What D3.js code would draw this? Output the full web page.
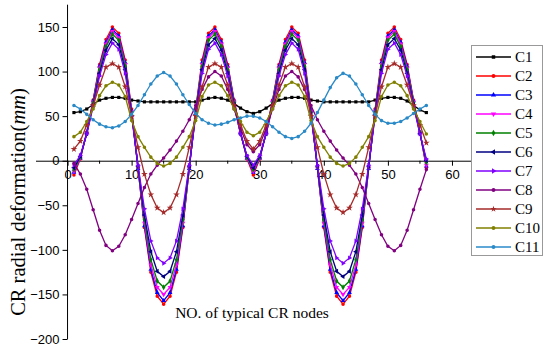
<!DOCTYPE html>
<html>
<head>
<meta charset="utf-8">
<script src="https://cdn.jsdelivr.net/npm/d3@7"></script>
<style>
  body { margin: 0; background: #fff; }
  svg { display: block; }
</style>
</head>
<body>
<div id="chart"></div>
<script>
// node numbers 1..56
const nodes = d3.range(1, 57);

const seriesNames = ["C1", "C2", "C3", "C4", "C5", "C6", "C7", "C8", "C9", "C10", "C11"];

const c1 = [54,55,58,63,68,70,71,71,70,68,67,66,66,66,66,66,66,66,66,66,68,70,71,70,68,64,59,55,53,
            55,59,64,68,70,71,71,70,68,67,66,66,66,66,66,66,66,66,68,70,71,71,70,67,62,57,54];
const c2 = [-16,2,32,68,108,136,150,143,113,58,-8,-75,-125,-152,-161,-152,-125,-75,-8,58,113,143,150,136,108,68,32,2,-16,
            2,32,68,108,136,150,143,113,58,-8,-75,-125,-152,-161,-152,-125,-75,-8,58,113,143,150,136,108,68,32,-8];
const c3 = [-13,3,32,67,106,133,147,140,110,56,-9,-73,-122,-148,-157,-148,-122,-73,-9,56,110,140,147,133,106,67,32,3,-13,
            3,32,67,106,133,147,140,110,56,-9,-73,-122,-148,-157,-148,-122,-73,-9,56,110,140,147,133,106,67,32,-6];
const c4 = [-12,3,31,66,104,131,145,138,108,55,-8,-70,-117,-142,-150,-142,-117,-70,-8,55,108,138,145,131,104,66,31,3,-12,
            3,31,66,104,131,145,138,108,55,-8,-70,-117,-142,-150,-142,-117,-70,-8,55,108,138,145,131,104,66,31,-5];
const c5 = [-10,4,31,65,102,128,142,135,106,54,-7,-66,-111,-135,-142,-135,-111,-66,-7,54,106,135,142,128,102,65,31,4,-10,
            4,31,65,102,128,142,135,106,54,-7,-66,-111,-135,-142,-135,-111,-66,-7,54,106,135,142,128,102,65,31,-2];
const c6 = [-8,5,30,63,98,124,137,130,102,52,-6,-61,-102,-124,-130,-124,-102,-61,-6,52,102,130,137,124,98,63,30,5,-8,
            5,30,63,98,124,137,130,102,52,-6,-61,-102,-124,-130,-124,-102,-61,-6,52,102,130,137,124,98,63,30,0];
const c7 = [-5,6,30,61,95,119,132,125,98,50,-5,-54,-90,-109,-115,-109,-90,-54,-5,50,98,125,132,119,95,61,30,6,-5,
            6,30,61,95,119,132,125,98,50,-5,-54,-90,-109,-115,-109,-90,-54,-5,50,98,125,132,119,95,61,30,2];
const c8 = [-3,-15,-32,-55,-78,-95,-101,-96,-83,-66,-48,-30,-15,-5,3,12,22,33,46,62,80,94,100,95,80,58,36,18,10,
            18,36,58,80,95,100,94,80,62,46,33,22,12,3,-5,-15,-30,-48,-66,-83,-96,-101,-95,-78,-55,-32,-10];
const c9 = [13,22,40,62,85,105,109,105,83,50,15,-15,-38,-53,-58,-53,-38,-15,15,50,83,105,109,105,85,62,40,22,13,
            22,40,62,85,105,109,105,83,50,15,-15,-38,-53,-58,-53,-38,-15,15,50,83,105,109,105,85,62,40,20];
const c10 = [27,32,44,58,73,84,88,85,72,45,27,15,4,-3,-6,-3,4,15,27,45,72,85,88,84,73,58,44,32,28,
             32,44,58,73,84,88,85,72,45,27,15,4,-3,-6,-3,4,15,27,45,72,85,88,84,73,58,44,30];
const c11 = [62,58,52,46,41,38,37,39,44,52,62,74,86,95,99,95,86,74,63,53,46,42,40,41,43,46,48,50,50,
             48,44,38,32,27,25,27,33,42,54,68,82,93,98,95,86,74,62,52,45,42,42,44,48,53,58,62];

const seriesValues = [c1, c2, c3, c4, c5, c6, c7, c8, c9, c10, c11];

const colors = ["#000000", "#ff0000", "#0000ff", "#ff00ff", "#008000", "#000080",
                "#8000ff", "#800080", "#a52a2a", "#808000", "#2a8ac8"];
const shapes = [d3.symbolSquare, d3.symbolCircle, d3.symbolTriangle, d3.symbolTriangle, d3.symbolDiamond,
                d3.symbolTriangle, d3.symbolTriangle, d3.symbolCircle, d3.symbolStar, d3.symbolCircle, d3.symbolCircle];
const rotations = [0, 0, 0, 180, 0, -90, 90, 0, 0, 0, 0];

const xTicks = [0, 10, 20, 30, 40, 50, 60];
const xMinorTicks = [5, 15, 25, 35, 45, 55];
const yTicks = [-200, -150, -100, -50, 0, 50, 100, 150];

const width = 550, height = 351;

const svg = d3.select("#chart")
    .append("svg")
    .attr("width", width)
    .attr("height", height);

const x = d3.scaleLinear().domain([-5, 63]).range([35.5, 471.2]);
const y = d3.scaleLinear().domain([-200, 175]).range([339, 4.7]);

// Y axis (crosses at x = 0)
const yAxis = svg.append("g")
    .attr("transform", `translate(${x(0)},0)`)
    .call(d3.axisLeft(y).tickValues(yTicks).tickSize(5).tickPadding(3)
        .tickFormat(d => d < 0 ? "\u2212" + Math.abs(d) : d));
yAxis.select(".domain").attr("d", `M0,${y(-200)}V${y(175)}`);
yAxis.selectAll("text")
    .style("font-family", "'Liberation Sans', Arial, sans-serif")
    .style("font-size", "13px");

// X axis (crosses at y = 0)
const xAxis = svg.append("g")
    .attr("transform", `translate(0,${y(0)})`)
    .call(d3.axisBottom(x).tickValues(xTicks).tickSize(5).tickPadding(4).tickSizeOuter(0));
xAxis.selectAll("text")
    .style("font-family", "'Liberation Sans', Arial, sans-serif")
    .style("font-size", "13px");
xAxis.selectAll(".minor")
    .data(xMinorTicks)
    .enter()
    .append("line")
    .attr("class", "minor")
    .attr("x1", d => x(d))
    .attr("x2", d => x(d))
    .attr("y1", 0)
    .attr("y2", 3)
    .attr("stroke", "#000");

// Lines
const line = d3.line()
    .x((d, i) => x(nodes[i]))
    .y(d => y(d));

seriesValues.forEach((vals, s) => {
    svg.append("path")
        .datum(vals)
        .attr("fill", "none")
        .attr("stroke", colors[s])
        .attr("stroke-width", 1.3)
        .attr("d", line);

    const sym = d3.symbol().type(shapes[s]).size(shapes[s] === d3.symbolStar ? 14 : 10);
    svg.append("g")
        .selectAll("path")
        .data(vals)
        .enter()
        .append("path")
        .attr("d", sym)
        .attr("transform", (d, i) => `translate(${x(nodes[i])},${y(d)}) rotate(${rotations[s]})`)
        .attr("fill", colors[s]);
});

// Axis titles
svg.append("text")
    .attr("text-anchor", "middle")
    .attr("x", 252)
    .attr("y", 318)
    .style("font-family", "'Liberation Serif', 'Times New Roman', serif")
    .style("font-size", "15.5px")
    .text("NO. of typical CR nodes");

const yTitle = svg.append("text")
    .attr("text-anchor", "middle")
    .attr("transform", `translate(25, 202) rotate(-90)`)
    .style("font-family", "'Liberation Serif', 'Times New Roman', serif")
    .style("font-size", "20.5px");
yTitle.append("tspan").text("CR radial deformation(");
yTitle.append("tspan").style("font-style", "italic").text("mm");
yTitle.append("tspan").text(")");

// Legend
const legend = svg.append("g");
legend.append("rect")
    .attr("x", 471.5)
    .attr("y", 45.5)
    .attr("width", 71)
    .attr("height", 210)
    .attr("fill", "#fff")
    .attr("stroke", "#999");

seriesNames.forEach((name, s) => {
    const ly = 57 + s * 19;
    legend.append("line")
        .attr("x1", 476).attr("x2", 511)
        .attr("y1", ly).attr("y2", ly)
        .attr("stroke", colors[s])
        .attr("stroke-width", 1.5);
    legend.append("path")
        .attr("d", d3.symbol().type(shapes[s]).size(12))
        .attr("transform", `translate(493.5,${ly}) rotate(${rotations[s]})`)
        .attr("fill", colors[s]);
    legend.append("text")
        .attr("x", 515)
        .attr("y", ly + 5)
        .style("font-family", "'Liberation Serif', 'Times New Roman', serif")
        .style("font-size", "15px")
        .text(name);
});
</script>
</body>
</html>
